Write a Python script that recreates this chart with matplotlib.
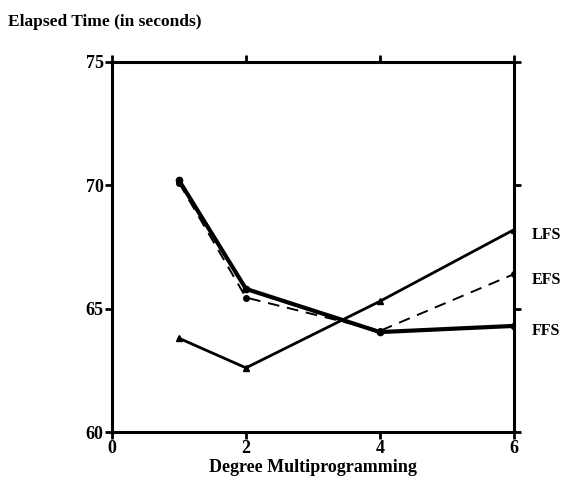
import matplotlib
matplotlib.use("Agg")
import matplotlib.pyplot as plt

x = [1, 2, 4, 6]
lfs = [63.8, 62.6, 65.3, 68.2]
efs = [70.1, 65.45, 64.1, 66.4]
ffs = [70.2, 65.8, 64.05, 64.3]
series_labels = ["LFS", "EFS", "FFS"]
label_y = [68.2, 66.4, 64.3]
xticks = [0, 2, 4, 6]
yticks = [60, 65, 70, 75]

plt.rcParams['font.family'] = ['Liberation Serif', 'DejaVu Serif']
plt.rcParams['font.weight'] = 'bold'

fig = plt.figure(figsize=(5.67, 4.8), dpi=100)
ax = fig.add_axes([0.1975, 0.1, 0.709, 0.771])

ax.plot(x, lfs, color='black', lw=2.0, marker='^', ms=4)
ax.plot(x, efs, color='black', lw=1.4, ls=(0, (6, 4)), marker='o', ms=4)
ax.plot(x, ffs, color='black', lw=3.0, marker='o', ms=4.5)

ax.set_xlim(0, 6)
ax.set_ylim(60, 75)
ax.set_xticks(xticks)
ax.set_yticks(yticks)
ax.set_xticklabels([str(v) for v in xticks], fontsize=13, fontweight='bold')
ax.set_yticklabels([str(v) for v in yticks], fontsize=13, fontweight='bold')
for s in ax.spines.values():
    s.set_linewidth(2.2)
ax.tick_params(direction='out', length=5, width=2, top=True, right=True, pad=1)
ax.tick_params(axis='x', pad=1)

ax.set_xlabel("Degree Multiprogramming", fontsize=13, fontweight='bold', labelpad=1)
fig.text(0.014, 0.955, "Elapsed Time (in seconds)", fontsize=12.5, fontweight='bold', va='center')

for lab, yv in zip(series_labels, label_y):
    ax.annotate(lab, xy=(6, yv), xytext=(13, -4), textcoords='offset points',
                fontsize=11.5, fontweight='bold', va='center', ha='left', annotation_clip=False)

fig.savefig("out.png", dpi=100)
